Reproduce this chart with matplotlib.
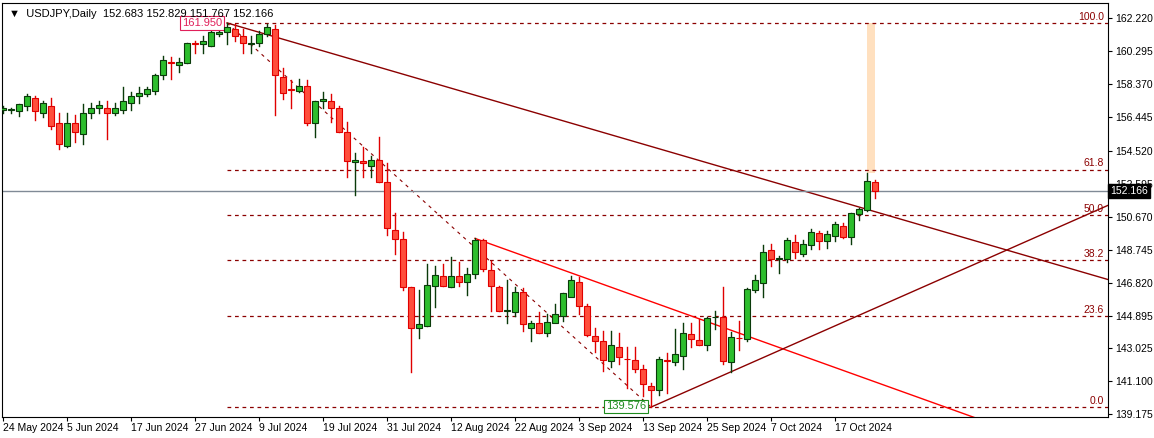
import numpy as np
import pandas as pd
import matplotlib
matplotlib.use("Agg")
import matplotlib.pyplot as plt
from matplotlib.patches import Rectangle

plt.rcParams["font.family"] = ["Liberation Sans", "DejaVu Sans"]

# USDJPY daily
opens = [156.9, 156.9, 156.8, 157.1, 157.6, 156.7, 157.1, 156.1, 154.8, 156.1,
         155.5, 156.7, 156.98, 157.0, 156.7, 156.9, 157.3, 157.7, 157.8, 157.99,
         158.9, 159.7, 159.5, 159.6, 160.8, 160.7, 160.6, 161.3, 161.4, 161.6,
         161.2, 160.7, 160.8, 161.3, 161.6, 158.8, 158.1, 158.0, 158.3, 156.1,
         157.4, 157.4, 157.0, 155.6, 153.85, 153.9, 153.6, 153.97, 152.7, 149.9,
         149.35, 146.55, 144.2, 144.3, 146.65, 147.2, 146.55, 147.2, 146.85, 147.3,
         149.3, 147.55, 146.55, 145.2, 145.1, 146.3, 144.2, 144.5, 143.9, 144.5,
         144.9, 146.0, 146.85, 145.45, 143.7, 143.4, 142.25, 143.1, 142.4, 142.3,
         141.8, 140.8, 140.6, 142.3, 142.2, 142.55, 143.85, 143.5, 143.2, 144.8,
         144.8, 142.2, 143.6, 143.55, 146.4, 146.82, 148.7, 148.2, 148.2, 149.2,
         148.5, 149.0, 149.7, 149.27, 149.56, 150.15, 149.5, 150.8, 151.05, 152.683]
highs = [157.1, 157.0, 157.2, 157.8, 157.7, 157.4, 157.6, 156.7, 156.7, 156.6,
         157.2, 157.3, 157.4, 157.4, 157.3, 158.2, 157.95, 158.2, 158.2, 159.0,
         160.0, 159.95, 159.9, 160.8, 160.9, 161.2, 161.8, 161.7, 161.95, 161.9,
         161.6, 161.2, 161.5, 161.9, 161.8, 159.3, 158.6, 158.7, 158.6, 157.4,
         157.9, 157.8, 157.1, 156.2, 154.4, 154.7, 154.2, 155.3, 153.8, 150.9,
         149.8, 146.55, 146.4, 147.9, 147.8, 147.9, 148.3, 148.0, 147.7, 149.4,
         149.35, 148.1, 146.6, 147.0, 146.55, 146.5, 144.6, 145.1, 145.0, 145.6,
         146.25, 147.2, 147.15, 145.6, 144.2, 144.0, 144.0, 143.9, 143.1, 143.1,
         142.0, 141.0, 142.5, 142.7, 144.1, 144.5, 144.45, 144.7, 144.8, 145.2,
         146.55, 143.95, 144.6, 146.5, 147.25, 149.0, 149.05, 148.4, 149.4, 149.6,
         149.3, 149.97, 149.85, 149.85, 150.38, 150.3, 150.9, 151.2, 153.2, 152.829]
lows = [156.7, 156.7, 156.55, 156.9, 156.3, 156.5, 155.8, 154.6, 154.7, 155.0,
        154.9, 156.4, 156.7, 155.2, 156.6, 156.7, 156.9, 157.3, 157.7, 157.8,
        158.7, 158.7, 159.1, 159.6, 160.2, 160.2, 160.6, 161.2, 160.7, 160.9,
        160.2, 160.2, 160.6, 161.2, 156.6, 157.5, 157.0, 157.9, 156.0, 155.3,
        157.0, 156.2, 155.6, 153.0, 151.9, 153.0, 153.0, 152.7, 149.6, 148.5,
        146.4, 141.6, 143.6, 144.3, 145.4, 146.65, 146.55, 146.6, 146.1, 147.1,
        147.5, 145.2, 145.2, 144.45, 144.9, 144.0, 143.4, 143.9, 143.7, 144.6,
        144.6, 146.05, 145.0, 143.7, 142.8, 141.7, 141.9, 142.1, 140.7, 141.6,
        140.25, 139.576, 140.3, 140.4, 142.0, 141.8, 143.1, 143.2, 142.9, 144.1,
        142.1, 141.6, 142.9, 143.45, 146.3, 146.0, 147.8, 147.4, 148.0, 148.25,
        148.4, 148.8, 148.8, 148.85, 149.27, 149.4, 149.05, 150.5, 151.0, 151.767]
closes = [157.0, 156.9, 157.2, 157.7, 156.8, 157.3, 155.96, 154.9, 156.1, 155.6,
          156.7, 157.0, 157.15, 156.7, 157.0, 157.4, 157.7, 157.85, 158.1, 158.9,
          159.8, 159.6, 159.7, 160.8, 160.75, 160.9, 161.4, 161.4, 161.7, 161.2,
          160.8, 160.8, 161.3, 161.7, 158.9, 157.85, 158.05, 158.3, 156.1, 157.4,
          157.5, 157.0, 155.6, 153.9, 153.95, 153.8, 153.95, 152.7, 150.0, 149.35,
          146.55, 144.2, 144.4, 146.7, 147.25, 146.65, 147.2, 146.85, 147.3, 149.3,
          147.6, 146.6, 145.2, 145.25, 146.3, 144.4, 144.5, 143.9, 144.55, 145.0,
          146.2, 146.95, 145.45, 143.75, 143.45, 142.3, 143.2, 142.5, 142.35, 141.8,
          140.9, 140.6, 142.4, 142.25, 142.65, 143.9, 143.55, 143.2, 144.75, 144.85,
          142.25, 143.65, 143.58, 146.45, 147.0, 148.6, 148.2, 148.25, 149.3, 148.6,
          149.1, 149.75, 149.25, 149.65, 150.22, 149.5, 150.86, 151.1, 152.77, 152.166]

dates = pd.bdate_range("2024-05-24", periods=len(closes))
fib_hi, fib_lo = 161.950, 139.576
fib_levels = [0.0, 23.6, 38.2, 50.0, 61.8, 100.0]
last_price = 152.166
yticks = [139.175, 141.100, 143.025, 144.895, 146.820, 148.745, 150.670, 152.595,
          154.520, 156.445, 158.370, 160.295, 162.220]

dark = "#8B0000"
fs = 7.5
fig = plt.figure(figsize=(11.54, 4.38), dpi=100)
ax = fig.add_axes([2 / 1154, 21 / 438, 1106 / 1154, 414 / 438])
ax.set_xlim(-0.125, 138.125)
ax.set_ylim(139.0, 163.11)

n = len(closes)
for i in range(n):
    o, h, l, c = opens[i], highs[i], lows[i], closes[i]
    up = c >= o
    face = "#2DBE2D" if up else "#FF4E3C"
    edge = "#0A3A0A" if up else "#E00000"
    ax.plot([i, i], [l, h], color=edge, lw=1, zorder=3)
    body = max(abs(c - o), 0.04)
    ax.add_patch(Rectangle((i - 0.32, min(o, c)), 0.64, body, facecolor=face,
                           edgecolor=edge, lw=0.8, zorder=4))

# fibonacci retracement
i_hi = highs.index(fib_hi)
i_lo = lows.index(fib_lo)
for lv in fib_levels:
    p = fib_lo + (fib_hi - fib_lo) * lv / 100
    ax.plot([i_hi, 138.2], [p, p], color=dark, lw=0.9, ls=(0, (3, 3)), zorder=2)
    ax.text(137.6, p + 0.08, f"{lv:.1f}", color=dark, fontsize=fs, ha="right", va="bottom")
ax.plot([i_hi, i_lo], [fib_hi, fib_lo], color=dark, lw=0.8, ls=(0, (3, 4)), zorder=2)

# trend lines
def ray(x0, y0, x1, y1, color):
    s = (y1 - y0) / (x1 - x0)
    xe = 138.2
    ax.plot([x0, xe], [y0, y0 + s * (xe - x0)], color=color, lw=1, zorder=2)

ray(i_hi, fib_hi, 87.1, 153.93, dark)
ray(59, 149.4, 121.25, 139.0, "#FF0000")
ray(i_lo, fib_lo, 138.0, 151.3, dark)

ax.add_patch(Rectangle((108, 153.23), 1.0, fib_hi - 153.23, facecolor="#FFDDB8",
                       edgecolor="none", alpha=0.9, zorder=1))

ax.axhline(last_price, color="#808A96", lw=1, zorder=2)

ax.text(i_hi - 0.6, fib_hi, f"{fib_hi:.3f}", color="#E0205A", fontsize=fs + 0.5, ha="right",
        va="center", bbox=dict(boxstyle="square,pad=0.15", fc="white", ec="#E0205A", lw=0.8))
ax.text(i_lo - 0.6, fib_lo + 0.05, f"{fib_lo:.3f}", color="#1E8C1E", fontsize=fs + 0.5, ha="right",
        va="center", bbox=dict(boxstyle="square,pad=0.15", fc="white", ec="#1E8C1E", lw=0.8))

ax.text(0.006, 0.985, "\u25bc  USDJPY,Daily  152.683 152.829 151.767 152.166",
        transform=ax.transAxes, fontsize=fs + 0.5, va="top", ha="left")

ax.yaxis.tick_right()
ax.set_yticks(yticks)
ax.set_yticklabels([f"{v:.3f}" for v in yticks], fontsize=fs)
ax.tick_params(axis="y", length=3, pad=2)
ax.text(1.002, (last_price - 139.0) / 24.11, f"{last_price:.3f}", transform=ax.transAxes,
        fontsize=fs, color="white", va="center", ha="left",
        bbox=dict(boxstyle="square,pad=0.2", fc="black", ec="black"))

xt = list(range(0, n, 8))
ax.set_xticks(xt)
ax.set_xticklabels([f"{dates[i].day} {dates[i].strftime('%b %Y')}" for i in xt],
                   fontsize=fs, ha="left")
ax.tick_params(axis="x", length=3, pad=1)
for s in ax.spines.values():
    s.set_linewidth(0.8)

fig.savefig("out.png", dpi=100)
